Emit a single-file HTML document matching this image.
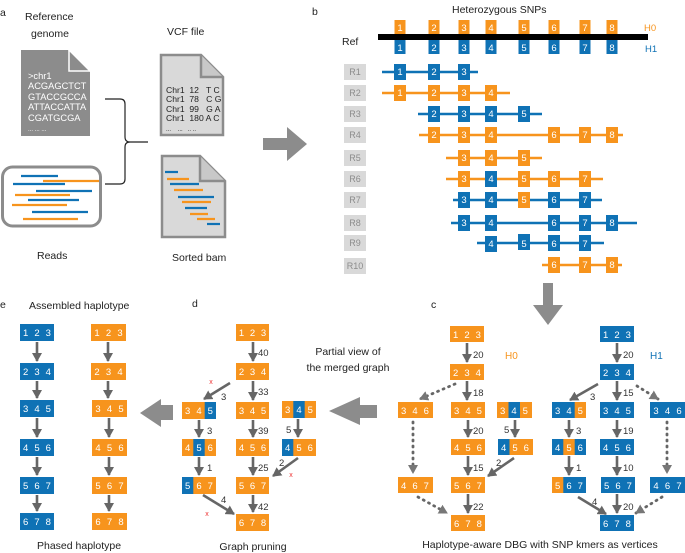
<!DOCTYPE html>
<html><head><meta charset="utf-8"><style>
html,body{margin:0;padding:0;background:#fff}
svg{display:block;font-family:"Liberation Sans",sans-serif}
.t{font-size:10.5px;fill:#222}
.w{font-size:9.5px;fill:#fff;text-anchor:middle}
.n{font-size:9.5px;fill:#333}
.a{stroke:#666;stroke-width:2.6;fill:none}
.d{stroke:#666;stroke-width:2.8;fill:none;stroke-dasharray:1 5;stroke-linecap:round}
.o{fill:#F7941D}.b{fill:#0F72B5}
.pre{white-space:pre}
</style></head><body>
<svg width="685" height="553" viewBox="0 0 685 553" xmlns="http://www.w3.org/2000/svg">
<defs>
<marker id="h" markerUnits="userSpaceOnUse" markerWidth="10" markerHeight="10" refX="8" refY="5" orient="auto"><path d="M0,0 L9,5 L0,10 z" fill="#666"/></marker>
<marker id="hd" markerUnits="userSpaceOnUse" markerWidth="10" markerHeight="10" refX="8" refY="5" orient="auto"><path d="M0,0 L9,5 L0,10 z" fill="#777"/></marker>
</defs>

<!-- Panel a -->
<text x="0" y="16" class="t">a</text>
<text x="25" y="20" class="t">Reference</text>
<text x="31" y="37" class="t">genome</text>
<path d="M21,50 H68 L90,72 V136 H21 Z" fill="#8c8c8c"/>
<path d="M69,50 V71 H90" fill="none" stroke="#fff" stroke-width="1.5"/>
<g font-size="9.3" fill="#fff">
<text x="28" y="79">&gt;chr1</text>
<text x="28" y="89">ACGAGCTCT</text>
<text x="28" y="100">GTACCGCCA</text>
<text x="28" y="110">ATTACCATTA</text>
<text x="28" y="121">CGATGCGA</text>
<text x="28" y="131" font-size="6">... ... ...</text>
</g>
<rect x="2.5" y="167" width="98" height="59" rx="10" fill="#fff" stroke="#8c8c8c" stroke-width="3"/>
<g stroke-width="2.2">
<line x1="21" y1="176" x2="58" y2="176" stroke="#0F72B5"/>
<line x1="43" y1="181" x2="99" y2="181" stroke="#F7941D"/>
<line x1="13" y1="184" x2="65" y2="184" stroke="#0F72B5"/>
<line x1="36" y1="191" x2="92" y2="191" stroke="#0F72B5"/>
<line x1="15" y1="195" x2="70" y2="195" stroke="#F7941D"/>
<line x1="28" y1="200" x2="79" y2="200" stroke="#0F72B5"/>
<line x1="12" y1="205" x2="67" y2="205" stroke="#F7941D"/>
<line x1="32" y1="212" x2="88" y2="212" stroke="#0F72B5"/>
<line x1="23" y1="219" x2="78" y2="219" stroke="#F7941D"/>
</g>
<text x="37" y="259" class="t">Reads</text>
<path d="M105,99 H120 Q125,99 125,104 V137 Q125,142 130,142 H148 M130,142 Q125,142 125,147 V179 Q125,184 120,184 H105" fill="none" stroke="#222" stroke-width="1.2"/>
<text x="167" y="35" class="t">VCF file</text>
<path d="M161,55 H201 L223,77 V135 H161 Z" fill="#d9d9d9" stroke="#8c8c8c" stroke-width="2.5"/>
<path d="M201,55 V77 H223" fill="#c8c8c8" stroke="#8c8c8c" stroke-width="2.5"/>
<g font-size="8.6" fill="#222" class="pre">
<text x="166" y="93" class="pre">Chr1  12   T C</text>
<text x="166" y="102" class="pre">Chr1  78   C G</text>
<text x="166" y="112" class="pre">Chr1  99   G A</text>
<text x="166" y="121" class="pre">Chr1  180 A C</text>
<text x="166" y="131" font-size="6" class="pre">...    ...   .. ..</text>
</g>
<path d="M162,156 H200 L225,181 V237 H162 Z" fill="#d9d9d9" stroke="#8c8c8c" stroke-width="2.5"/>
<path d="M200,156 V181 H225" fill="#c8c8c8" stroke="#8c8c8c" stroke-width="2.5"/>
<g stroke-width="2.2">
<line x1="165" y1="172" x2="178" y2="172" stroke="#0F72B5"/>
<line x1="167" y1="179" x2="189" y2="179" stroke="#F7941D"/>
<line x1="170" y1="184" x2="199" y2="184" stroke="#0F72B5"/>
<line x1="174" y1="190" x2="203" y2="190" stroke="#F7941D"/>
<line x1="178" y1="197" x2="214" y2="197" stroke="#0F72B5"/>
<line x1="182" y1="202" x2="211" y2="202" stroke="#F7941D"/>
<line x1="185" y1="208" x2="207" y2="208" stroke="#0F72B5"/>
<line x1="190" y1="214" x2="208" y2="214" stroke="#F7941D"/>
<line x1="197" y1="219" x2="215" y2="219" stroke="#F7941D"/>
<line x1="207" y1="224" x2="220" y2="224" stroke="#0F72B5"/>
</g>
<text x="172" y="261" class="t">Sorted bam</text>
<path d="M263,138 H287 V127 L307,144 L287,161 V150 H263 Z" fill="#8c8c8c"/>

<!-- Panel b -->
<text x="312" y="15" class="t">b</text>
<text x="452" y="13" class="t">Heterozygous SNPs</text>
<text x="342" y="45" class="t">Ref</text>
<g class="o">
<rect x="394.5" y="20" width="11" height="14"/><rect x="428.5" y="20" width="11" height="14"/><rect x="458.5" y="20" width="11" height="14"/><rect x="485.5" y="20" width="11" height="14"/><rect x="518.5" y="20" width="11" height="14"/><rect x="548.5" y="20" width="11" height="14"/><rect x="579.5" y="20" width="11" height="14"/><rect x="606.5" y="20" width="11" height="14"/>
</g>
<g class="b">
<rect x="394.5" y="40" width="11" height="14"/><rect x="428.5" y="40" width="11" height="14"/><rect x="458.5" y="40" width="11" height="14"/><rect x="485.5" y="40" width="11" height="14"/><rect x="518.5" y="40" width="11" height="14"/><rect x="548.5" y="40" width="11" height="14"/><rect x="579.5" y="40" width="11" height="14"/><rect x="606.5" y="40" width="11" height="14"/>
</g>
<rect x="378" y="34" width="270" height="6" fill="#000"/>
<text class="w" font-size="8.5" x="400 434 464 491 524 554 585 612" y="31">12345678</text>
<text class="w" font-size="8.5" x="400 434 464 491 524 554 585 612" y="51">12345678</text>
<text x="644" y="31" font-size="9.5" fill="#F7941D">H0</text>
<text x="645" y="52" font-size="9.5" fill="#0F72B5">H1</text>

<g fill="#d9d9d9">
<rect x="344" y="64" width="22" height="16"/><rect x="344" y="85" width="22" height="16"/><rect x="344" y="106" width="22" height="16"/><rect x="344" y="127" width="22" height="16"/><rect x="344" y="150" width="22" height="16"/><rect x="344" y="171" width="22" height="16"/><rect x="344" y="192" width="22" height="16"/><rect x="344" y="215" width="22" height="16"/><rect x="344" y="235" width="22" height="16"/><rect x="344" y="258" width="22" height="16"/>
</g>
<g font-size="9" fill="#8c8c8c" text-anchor="middle">
<text x="355" y="75">R1</text><text x="355" y="96">R2</text><text x="355" y="117">R3</text><text x="355" y="138">R4</text><text x="355" y="161">R5</text><text x="355" y="182">R6</text><text x="355" y="203">R7</text><text x="355" y="226">R8</text><text x="355" y="246">R9</text><text x="355" y="269">R10</text>
</g>
<g stroke-width="2.4">
<line x1="382" y1="72" x2="478" y2="72" stroke="#0F72B5"/>
<line x1="382" y1="93" x2="510" y2="93" stroke="#F7941D"/>
<line x1="418" y1="114" x2="542" y2="114" stroke="#0F72B5"/>
<line x1="419" y1="135" x2="623" y2="135" stroke="#F7941D"/>
<line x1="446" y1="158" x2="542" y2="158" stroke="#F7941D"/>
<line x1="446" y1="179" x2="603" y2="179" stroke="#F7941D"/>
<line x1="453" y1="200" x2="602" y2="200" stroke="#0F72B5"/>
<line x1="451" y1="223" x2="637" y2="223" stroke="#0F72B5"/>
<line x1="477" y1="243" x2="604" y2="243" stroke="#0F72B5"/>
<line x1="542" y1="265" x2="622" y2="265" stroke="#F7941D"/>
</g>
<g class="b"><rect x="394" y="64" width="12" height="16"/><rect x="428" y="64" width="12" height="16"/><rect x="458" y="64" width="12" height="16"/></g>
<text class="w" font-size="8.5" x="400 434 464" y="75">123</text>
<g class="o"><rect x="394" y="85" width="12" height="16"/><rect x="428" y="85" width="12" height="16"/><rect x="458" y="85" width="12" height="16"/><rect x="485" y="85" width="12" height="16"/></g>
<text class="w" font-size="8.5" x="400 434 464 491" y="96">1234</text>
<g class="b"><rect x="428" y="106" width="12" height="16"/><rect x="458" y="106" width="12" height="16"/><rect x="485" y="106" width="12" height="16"/><rect x="518" y="106" width="12" height="16"/></g>
<text class="w" font-size="8.5" x="434 464 491 524" y="117">2345</text>
<g class="o"><rect x="428" y="127" width="12" height="16"/><rect x="458" y="127" width="12" height="16"/><rect x="485" y="127" width="12" height="16"/><rect x="548" y="127" width="12" height="16"/><rect x="579" y="127" width="12" height="16"/><rect x="606" y="127" width="12" height="16"/></g>
<text class="w" font-size="8.5" x="434 464 491 554 585 612" y="138">234678</text>
<g class="o"><rect x="458" y="150" width="12" height="16"/><rect x="485" y="150" width="12" height="16"/><rect x="518" y="150" width="12" height="16"/></g>
<text class="w" font-size="8.5" x="464 491 524" y="161">345</text>
<g class="o"><rect x="458" y="171" width="12" height="16"/><rect x="518" y="171" width="12" height="16"/><rect x="548" y="171" width="12" height="16"/><rect x="579" y="171" width="12" height="16"/></g>
<rect class="b" x="485" y="171" width="12" height="16"/>
<text class="w" font-size="8.5" x="464 491 524 554 585" y="182">34567</text>
<g class="b"><rect x="458" y="192" width="12" height="16"/><rect x="485" y="192" width="12" height="16"/><rect x="548" y="192" width="12" height="16"/><rect x="579" y="192" width="12" height="16"/></g>
<rect class="o" x="518" y="192" width="12" height="16"/>
<text class="w" font-size="8.5" x="464 491 524 554 585" y="203">34567</text>
<g class="b"><rect x="458" y="215" width="12" height="16"/><rect x="485" y="215" width="12" height="16"/><rect x="548" y="215" width="12" height="16"/><rect x="579" y="215" width="12" height="16"/><rect x="606" y="215" width="12" height="16"/></g>
<text class="w" font-size="8.5" x="464 491 554 585 612" y="226">34678</text>
<g class="b"><rect x="485" y="236" width="12" height="16"/><rect x="518" y="234" width="12" height="16"/><rect x="548" y="235" width="12" height="16"/><rect x="579" y="235" width="12" height="16"/></g>
<text class="w" font-size="8.5" x="491 524 554 585" y="247">4567</text>
<g class="o"><rect x="548" y="257" width="12" height="16"/><rect x="579" y="257" width="12" height="16"/><rect x="606" y="257" width="12" height="16"/></g>
<text class="w" font-size="8.5" x="554 585 612" y="268">678</text>

<path d="M543,283 H553 V305 H563 L548,325 L533,305 H543 Z" fill="#8c8c8c"/>

<!-- Panel c -->
<text x="431" y="308" class="t">c</text>
<text x="505" y="359" font-size="10" fill="#F7941D">H0</text>
<text x="650" y="359" font-size="10" fill="#0F72B5">H1</text>
<g class="o">
<rect x="450" y="326" width="34" height="16"/><rect x="450" y="364" width="34" height="16"/><rect x="451" y="402" width="34" height="16"/><rect x="451" y="439" width="34" height="16"/><rect x="451" y="477" width="34" height="16"/><rect x="451" y="515" width="34" height="16"/><rect x="398" y="402" width="35" height="16"/><rect x="398" y="477" width="35" height="16"/>
<rect x="497" y="402" width="35" height="16"/><rect x="498" y="439" width="35" height="16"/>
</g>
<rect class="b" x="508.5" y="402" width="11.5" height="16"/>
<rect class="b" x="498" y="439" width="11.5" height="16"/>
<text class="w" x="455.7 467 478.3" y="338">123</text>
<text class="w" x="455.7 467 478.3" y="376">234</text>
<text class="w" x="456.7 468 479.3" y="414">345</text>
<text class="w" x="456.7 468 479.3" y="451">456</text>
<text class="w" x="456.7 468 479.3" y="489">567</text>
<text class="w" x="456.7 468 479.3" y="527">678</text>
<text class="w" x="403.7 415 426.3" y="414">346</text>
<text class="w" x="403.7 415 426.3" y="489">467</text>
<text class="w" x="502.7 514 525.3" y="414">345</text>
<text class="w" x="503.7 515 526.3" y="451">456</text>
<g class="a" marker-end="url(#h)">
<line x1="467" y1="343" x2="467" y2="362"/><line x1="467" y1="381" x2="467" y2="400"/><line x1="468" y1="420" x2="468" y2="437"/><line x1="468" y1="456" x2="468" y2="475"/><line x1="468" y1="494" x2="468" y2="513"/>
<line x1="515" y1="420" x2="515" y2="437"/><line x1="514" y1="458" x2="488" y2="476"/>
</g>
<g class="d" marker-end="url(#hd)">
<line x1="455" y1="384" x2="420" y2="399"/><line x1="413" y1="422" x2="413" y2="473"/><line x1="418" y1="497" x2="447" y2="513"/>
</g>
<g class="n">
<text x="473" y="358">20</text><text x="473" y="396">18</text><text x="473" y="434">20</text><text x="473" y="471">15</text><text x="473" y="510">22</text><text x="504" y="433">5</text><text x="496" y="466">2</text>
</g>
<g class="b">
<rect x="600" y="326" width="34" height="16"/><rect x="600" y="364" width="34" height="16"/><rect x="600" y="402" width="34" height="16"/><rect x="600" y="439" width="34" height="16"/><rect x="601" y="477" width="34" height="16"/><rect x="600" y="515" width="34" height="16"/>
<rect x="552" y="402" width="34" height="16"/><rect x="552" y="439" width="34" height="16"/><rect x="552" y="477" width="34" height="16"/>
<rect x="650" y="402" width="36" height="16"/><rect x="650" y="477" width="36" height="16"/>
</g>
<rect class="o" x="574.7" y="402" width="11.3" height="16"/>
<rect class="o" x="563.3" y="439" width="11.4" height="16"/>
<rect class="o" x="552" y="477" width="11.3" height="16"/>
<text class="w" x="605.7 617 628.3" y="338">123</text>
<text class="w" x="605.7 617 628.3" y="376">234</text>
<text class="w" x="605.7 617 628.3" y="414">345</text>
<text class="w" x="605.7 617 628.3" y="451">456</text>
<text class="w" x="606.7 618 629.3" y="489">567</text>
<text class="w" x="605.7 617 628.3" y="527">678</text>
<text class="w" x="557.7 569 580.3" y="414">345</text>
<text class="w" x="557.7 569 580.3" y="451">456</text>
<text class="w" x="557.7 569 580.3" y="489">567</text>
<text class="w" x="656 667.5 679" y="414">346</text>
<text class="w" x="656 667.5 679" y="489">467</text>
<g class="a" marker-end="url(#h)">
<line x1="617" y1="343" x2="617" y2="362"/><line x1="617" y1="381" x2="617" y2="400"/><line x1="617" y1="420" x2="617" y2="437"/><line x1="617" y1="456" x2="617" y2="475"/><line x1="617" y1="494" x2="617" y2="513"/>
<line x1="569" y1="420" x2="569" y2="437"/><line x1="569" y1="456" x2="569" y2="475"/>
<line x1="598" y1="384" x2="570" y2="400"/><line x1="578" y1="497" x2="606" y2="514"/>
</g>
<g class="d" marker-end="url(#hd)">
<line x1="637" y1="386" x2="658" y2="399"/><line x1="667" y1="422" x2="667" y2="473"/><line x1="662" y1="497" x2="636" y2="513"/>
</g>
<g class="n">
<text x="623" y="358">20</text><text x="623" y="396">15</text><text x="623" y="434">19</text><text x="623" y="471">10</text><text x="623" y="510">20</text><text x="590" y="400">3</text><text x="576" y="434">3</text><text x="576" y="471">1</text><text x="592" y="505">4</text>
</g>
<text x="540" y="548" class="t" text-anchor="middle">Haplotype-aware DBG with SNP kmers as vertices</text>

<path d="M377,405 H360 V397 L329,411 L360,425 V418 H377 Z" fill="#8c8c8c"/>
<path d="M173,405 H161 V399 L140,413 L161,427 V420 H173 Z" fill="#8c8c8c"/>
<text x="348" y="355" class="t" text-anchor="middle">Partial view of</text>
<text x="348" y="371" class="t" text-anchor="middle">the merged graph</text>

<!-- Panel d -->
<text x="192" y="307" class="t">d</text>
<g class="o">
<rect x="236" y="324" width="33" height="17"/><rect x="236" y="363" width="33" height="17"/><rect x="236" y="402" width="33" height="17"/><rect x="236" y="439" width="33" height="17"/><rect x="236" y="477" width="33" height="17"/><rect x="236" y="514" width="33" height="17"/>
<rect x="182" y="402" width="34" height="17"/><rect x="182" y="439" width="34" height="17"/><rect x="182" y="477" width="34" height="17"/>
<rect x="282" y="401" width="34" height="17"/><rect x="282" y="439" width="34" height="17"/>
</g>
<g class="b">
<rect x="204.7" y="402" width="11.3" height="17"/><rect x="193.3" y="439" width="11.4" height="17"/><rect x="182" y="477" width="11.3" height="17"/>
<rect x="293.3" y="401" width="11.4" height="17"/><rect x="282" y="439" width="11.3" height="17"/>
</g>
<text class="w" x="241.5 252.5 263.5" y="336">123</text>
<text class="w" x="241.5 252.5 263.5" y="375">234</text>
<text class="w" x="241.5 252.5 263.5" y="414">345</text>
<text class="w" x="241.5 252.5 263.5" y="451">456</text>
<text class="w" x="241.5 252.5 263.5" y="489">567</text>
<text class="w" x="241.5 252.5 263.5" y="526">678</text>
<text class="w" x="187.7 199 210.3" y="414">345</text>
<text class="w" x="187.7 199 210.3" y="451">456</text>
<text class="w" x="187.7 199 210.3" y="489">567</text>
<text class="w" x="287.7 299 310.3" y="413">345</text>
<text class="w" x="287.7 299 310.3" y="451">456</text>
<g class="a" marker-end="url(#h)">
<line x1="253" y1="342" x2="253" y2="361"/><line x1="253" y1="381" x2="253" y2="400"/><line x1="253" y1="420" x2="253" y2="437"/><line x1="253" y1="457" x2="253" y2="475"/><line x1="253" y1="495" x2="253" y2="512"/>
<line x1="199" y1="420" x2="199" y2="437"/><line x1="199" y1="457" x2="199" y2="475"/>
<line x1="230" y1="383" x2="204" y2="399"/><line x1="203" y1="495" x2="234" y2="514"/>
<line x1="298" y1="419" x2="298" y2="437"/><line x1="298" y1="458" x2="273" y2="476"/>
</g>
<g class="n">
<text x="258" y="356">40</text><text x="258" y="395">33</text><text x="258" y="434">39</text><text x="258" y="471">25</text><text x="258" y="510">42</text><text x="221" y="400">3</text><text x="207" y="434">3</text><text x="207" y="471">1</text><text x="221" y="503">4</text><text x="286" y="433">5</text><text x="279" y="466">2</text>
</g>
<g font-size="7" fill="#e33" text-anchor="middle">
<text x="211" y="384">x</text><text x="207" y="516">x</text><text x="291" y="477">x</text>
</g>
<text x="253" y="550" class="t" text-anchor="middle">Graph pruning</text>

<!-- Panel e -->
<text x="0" y="308" class="t">e</text>
<text x="29" y="309" class="t">Assembled haplotype</text>
<g class="b">
<rect x="20" y="324" width="34" height="17"/><rect x="20" y="363" width="34" height="17"/><rect x="20" y="400" width="34" height="17"/><rect x="20" y="439" width="34" height="17"/><rect x="20" y="477" width="34" height="17"/><rect x="20" y="513" width="34" height="17"/>
</g>
<g class="o">
<rect x="91" y="324" width="35" height="17"/><rect x="91" y="363" width="35" height="17"/><rect x="92" y="400" width="35" height="17"/><rect x="92" y="439" width="35" height="17"/><rect x="92" y="477" width="35" height="17"/><rect x="92" y="513" width="35" height="17"/>
</g>
<text class="w" x="25.7 37 48.3" y="336">123</text>
<text class="w" x="25.7 37 48.3" y="375">234</text>
<text class="w" x="25.7 37 48.3" y="412">345</text>
<text class="w" x="25.7 37 48.3" y="451">456</text>
<text class="w" x="25.7 37 48.3" y="489">567</text>
<text class="w" x="25.7 37 48.3" y="525">678</text>
<text class="w" x="97 108.5 120" y="336">123</text>
<text class="w" x="97 108.5 120" y="375">234</text>
<text class="w" x="98 109.5 121" y="412">345</text>
<text class="w" x="98 109.5 121" y="451">456</text>
<text class="w" x="98 109.5 121" y="489">567</text>
<text class="w" x="98 109.5 121" y="525">678</text>
<g class="a" marker-end="url(#h)">
<line x1="37" y1="342" x2="37" y2="361"/><line x1="37" y1="381" x2="37" y2="398"/><line x1="37" y1="418" x2="37" y2="437"/><line x1="37" y1="457" x2="37" y2="475"/><line x1="37" y1="495" x2="37" y2="511"/>
<line x1="108" y1="342" x2="108" y2="361"/><line x1="108" y1="381" x2="108" y2="398"/><line x1="109" y1="418" x2="109" y2="437"/><line x1="109" y1="457" x2="109" y2="475"/><line x1="109" y1="495" x2="109" y2="511"/>
</g>
<text x="37" y="549" class="t">Phased haplotype</text>
</svg>
</body></html>
